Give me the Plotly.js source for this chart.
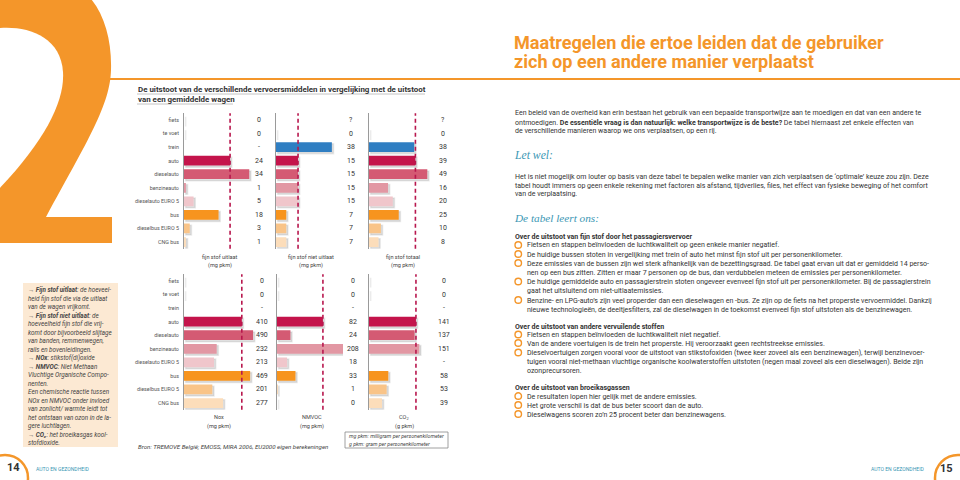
<!DOCTYPE html>
<html><head><meta charset="utf-8">
<script src="https://cdn.plot.ly/plotly-3.0.1.min.js"></script>
<style>html,body{margin:0;padding:0;background:#fff}#chart{width:960px;height:480px}</style>
</head><body><div id="chart"></div>
<script>
// ---------- DATA ----------
const categories = ['fiets','te voet','trein','auto','dieselauto','benzineauto','dieselauto EURO 5','bus','dieselbus EURO 5','CNG bus'];
const fijnStofUitlaat     = [0, 0, '-', 24, 34, 1, 5, 18, 3, 1];
const fijnStofNietUitlaat = ['?', 0, 38, 15, 15, 15, 15, 7, 7, 7];
const fijnStofTotaal      = ['?', 0, 38, 39, 49, 16, 20, 25, 10, 8];
const noxValues           = [0, 0, '-', 410, 490, 232, 213, 469, 201, 277];
const nmvocValues         = [0, 0, '-', 82, 24, 208, 18, 33, 1, 0];
const co2Values           = [0, 0, '-', 141, 137, 151, '-', 58, 53, 39];
const panelTitles = [
  ['fijn stof uitlaat','(mg pkm)'],
  ['fijn stof niet uitlaat','(mg pkm)'],
  ['fijn stof totaal','(mg pkm)'],
  ['Nox','(mg pkm)'],
  ['NMVOC','(mg pkm)'],
  ['CO<sub>2</sub>','(g pkm)']
];
const referenceCategory = 'auto';

// ---------- STYLE ----------
const W = 960, H = 480;
const NARROW = "'Liberation Sans Narrow', 'Roboto', sans-serif";
const SERIF = "'Liberation Serif', 'DejaVu Serif', serif";
const ORANGE = '#F4962A', TEAL = '#3A97B4', TXT = '#333333';
const barColors = ['#cccccc','#cccccc','#2F7EC2','#C4144B','#D45A73','#E297A3','#F0C6CB','#F7941E','#F9C488','#FCDDBA'];

const px = x => x / W, py = y => 1 - y / H;
const P = (x, y) => (x / W).toFixed(5) + ',' + (1 - y / H).toFixed(5);

const cv = document.createElement('canvas').getContext('2d');
function measure(html, size, family, italic) {
  let w = 0, bold = false;
  html.split(/(<b>|<\/b>)/).forEach(p => {
    if (p === '<b>') { bold = true; return; }
    if (p === '</b>') { bold = false; return; }
    const t = p.replace(/<[^>]+>/g, '');
    cv.font = (italic ? 'italic ' : '') + (bold ? 'bold ' : '') + size + 'px ' + family;
    w += cv.measureText(t).width;
  });
  return w;
}
function fit(html, family, italic, target) {
  return 10 * target / measure(html, 10, family, italic);
}

const panelGeom = [
  {x0:184, x1:255, ppu:1.92, top:true,  labels:true,  valX:259, titleX:220},
  {x0:276, x1:340, ppu:1.47, top:true,  labels:false, valX:351, titleX:311},
  {x0:369, x1:432, ppu:1.19, top:true,  labels:false, valX:443, titleX:403},
  {x0:184, x1:256, ppu:0.141,top:false, labels:true,  valX:262, titleX:219},
  {x0:277, x1:343, ppu:0.56, top:false, labels:false, valX:353, titleX:312},
  {x0:369, x1:432, ppu:0.333,top:false, labels:false, valX:444, titleX:404}
];
const panelValues = [fijnStofUitlaat, fijnStofNietUitlaat, fijnStofTotaal, noxValues, nmvocValues, co2Values];
const rowDomTop = [113.2, 248.8], rowDomBot = [274.2, 409.8];
const SH = 1.6; // shadow offset px

const TICK = Math.min(7, fit('dieselauto EURO 5', NARROW, false, 44));
const PT = Math.min(7, fit('fijn stof niet uitlaat', NARROW, false, 46));

const data = [];
const annotations = [];
const shapes = [];
const layout = {
  width: W, height: H, margin: {l:0, r:0, t:0, b:0},
  paper_bgcolor: '#ffffff', plot_bgcolor: 'rgba(0,0,0,0)',
  showlegend: false
};

function txt(x, y, text, size, color, family, extra) {
  annotations.push(Object.assign({
    xref:'paper', yref:'paper', x:px(x), y:py(y), text:text, showarrow:false,
    xanchor:'left', yanchor:'middle', borderpad:0,
    font:{family:family || NARROW, size:size, color:color || TXT}
  }, extra || {}));
}

const mainTraces = [];
panelValues.forEach((vals, i) => {
  const g = panelGeom[i];
  const nb = i + 1, sb = nb === 1 ? '' : String(nb);   // shadow (base) axes
  const sm = String(i + 7);                            // main (overlay) axes
  const dom = g.top ? rowDomTop : rowDomBot;
  const rowPx = (dom[1] - dom[0]) / categories.length;
  const R = (g.x1 - g.x0) / g.ppu;
  const xs = vals.map(v => typeof v === 'number' ? v : null);
  // shadow trace on base axes (ranges shifted so bars appear offset right/down)
  data.push({
    type:'bar', orientation:'h', xaxis:'x' + sb, yaxis:'y' + sb,
    x: xs, y: categories, width: 0.72,
    marker:{color:'rgba(60,60,60,0.16)', line:{width:1.6, color:'rgba(60,60,60,0.10)'}},
    hoverinfo:'skip'
  });
  layout['xaxis' + sb] = {domain:[px(g.x0), px(g.x1)], range:[-SH / g.ppu, R - SH / g.ppu],
    visible:false, fixedrange:true, anchor:'y' + sb};
  const s = SH / rowPx;
  layout['yaxis' + sb] = {domain:[py(dom[1]), py(dom[0])], type:'category',
    categoryorder:'array', categoryarray:categories,
    range:[categories.length - 0.5 - s, -0.5 - s], autorange:false,
    visible:false, fixedrange:true, anchor:'x' + sb};
  // main trace on overlay axes
  mainTraces.push({
    type:'bar', orientation:'h', xaxis:'x' + sm, yaxis:'y' + sm,
    x: xs, y: categories, width: 0.72,
    marker:{color: barColors, line:{width:0}},
    hoverinfo:'skip'
  });
  layout['xaxis' + sm] = {overlaying:'x' + sb, range:[0, R], visible:false, fixedrange:true, anchor:'y' + sm};
  layout['yaxis' + sm] = {overlaying:'y' + sb, type:'category',
    categoryorder:'array', categoryarray:categories,
    range:[categories.length - 0.5, -0.5], autorange:false,
    showline:true, linecolor:'#9a9a9a', linewidth:1,
    ticks:'', showgrid:false, zeroline:false,
    showticklabels:g.labels, ticklabelstandoff:3,
    tickfont:{family:NARROW, size:TICK, color:'#555'},
    anchor:'x' + sm, fixedrange:true};
  const ref = vals[categories.indexOf(referenceCategory)];
  shapes.push({type:'line', xref:'x' + sm, yref:'y' + sm + ' domain', x0:ref, x1:ref, y0:0, y1:1,
    line:{color:'#B8174E', width:1.6, dash:'4px,3px'}, layer:'above'});
  vals.forEach((v, k) => {
    annotations.push({xref:'paper', yref:'y' + sm, x:px(g.valX), y:categories[k], text:String(v),
      showarrow:false, xanchor:'center', yanchor:'middle',
      font:{family:NARROW, size:7, color:TXT}});
  });
  const ty = g.top ? [257, 265] : [417, 426];
  panelTitles[i].forEach((t, k) => {
    txt(g.titleX, ty[k], t, PT, '#444', NARROW, {xanchor:'center'});
  });
});
mainTraces.forEach(t => data.push(t));

// ---------- Decorations ----------
const two = 'M' + P(-20,-10) + ' L' + P(82,-10) + ' C' + P(102,6) + ' ' + P(112,36) + ' ' + P(111,70) +
  ' C' + P(110,105) + ' ' + P(88,140) + ' ' + P(46,217) + ' L' + P(112,217) + ' L' + P(112,243) +
  ' L' + P(-20,243) + ' Z';
shapes.push({type:'path', xref:'paper', yref:'paper', path:two, fillcolor:ORANGE, line:{width:0}, layer:'below'});
const counter = 'M' + P(-20,32) + ' C' + P(10,22) + ' ' + P(60,28) + ' ' + P(63,72) +
  ' C' + P(65,105) + ' ' + P(40,150) + ' ' + P(-20,208) + ' Z';
shapes.push({type:'path', xref:'paper', yref:'paper', path:counter, fillcolor:'#ffffff', line:{width:0}, layer:'below'});
shapes.push({type:'line', xref:'paper', yref:'paper', x0:px(108), x1:px(960), y0:py(79), y1:py(79), line:{color:ORANGE, width:2.2}});
shapes.push({type:'line', xref:'paper', yref:'paper', x0:px(137), x1:px(425), y0:py(94), y1:py(94), line:{color:'#c4c4c4', width:1}});
shapes.push({type:'line', xref:'paper', yref:'paper', x0:px(137), x1:px(233), y0:py(104), y1:py(104), line:{color:'#c4c4c4', width:1}});
shapes.push({type:'rect', xref:'paper', yref:'paper', x0:px(23), x1:px(118), y0:py(447), y1:py(283), fillcolor:'#FCE9D3', line:{width:0}, layer:'below'});
shapes.push({type:'rect', xref:'paper', yref:'paper', x0:px(345), x1:px(448), y0:py(448), y1:py(432), fillcolor:'rgba(0,0,0,0)', line:{color:'#888', width:0.8}});
shapes.push({type:'circle', xref:'paper', yref:'paper', x0:px(5-23), x1:px(5+23), y0:py(478+23), y1:py(478-23), line:{color:ORANGE, width:2.5}});
shapes.push({type:'circle', xref:'paper', yref:'paper', x0:px(958-23), x1:px(958+23), y0:py(478+23), y1:py(478-23), line:{color:ORANGE, width:2.5}});

// ---------- Texts ----------
const T1 = '<b>De uitstoot van de verschillende vervoersmiddelen in vergelijking met de uitstoot</b>';
const TS = fit(T1, NARROW, false, 288);
txt(137, 89, T1, TS, '#333');
txt(137, 99, '<b>van een gemiddelde wagen</b>', TS, '#333');
const BRON = 'Bron: TREMOVE België; EMOSS, MIRA 2006, EU2000 eigen berekeningen';
txt(137, 446, '<i>' + BRON + '</i>', fit(BRON, NARROW, true, 191), '#444');
const U1 = 'mg pkm: milligram per personenkilometer';
const US = fit(U1, NARROW, true, 95);
txt(348, 436, '<i>' + U1 + '</i>', US, '#444');
txt(348, 444, '<i>g pkm: gram per personenkilometer</i>', US, '#444');

const sidebarLines = [
  '<b>→ Fijn stof uitlaat</b>: de hoeveel-',
  'heid fijn stof die via de uitlaat',
  'van de wagen vrijkomt.',
  '<b>→ Fijn stof niet uitlaat</b>: de',
  'hoeveelheid fijn stof die vrij-',
  'komt door bijvoorbeeld slijtage',
  'van banden, remmenwegen,',
  'rails en bovenleidingen.',
  '<b>→ NOx</b>: stikstof(di)oxide',
  '<b>→ NMVOC</b>: Niet Methaan',
  'Vluchtige Organische Compo-',
  'nenten.',
  'Een chemische reactie tussen',
  'NOx en NMVOC onder invloed',
  'van zonlicht/ warmte leidt tot',
  'het ontstaan van ozon in de la-',
  'gere luchtlagen.',
  '<b>→ CO₂</b>: het broeikasgas kool-',
  'stofdioxide.'
];
const SS = Math.min(fit(sidebarLines[5], NARROW, true, 84), fit(sidebarLines[1], NARROW, true, 81), fit(sidebarLines[0], NARROW, true, 87));
sidebarLines.forEach((l, k) => txt(27, 290 + k * 8.5, '<i>' + l + '</i>', SS, '#444'));

const HD1 = '<b>Maatregelen die ertoe leiden dat de gebruiker</b>';
const HS = fit(HD1, NARROW, false, 370);
txt(513, 42.5, HD1, HS, ORANGE);
txt(513, 62, '<b>zich op een andere manier verplaatst</b>', HS, ORANGE);

const paraLines = [
  [113, 'Een beleid van de overheid kan erin bestaan het gebruik van een bepaalde transportwijze aan te moedigen en dat van een andere te'],
  [122, 'ontmoedigen. <b>De essentiële vraag is dan natuurlijk: welke transportwijze is de beste?</b> De tabel hiernaast zet enkele effecten van'],
  [130.5, 'de verschillende manieren waarop we ons verplaatsen, op een rij.'],
  [176, 'Het is niet mogelijk om louter op basis van deze tabel te bepalen welke manier van zich verplaatsen de ‘optimale’ keuze zou zijn. Deze'],
  [185, 'tabel houdt immers op geen enkele rekening met factoren als afstand, tijdverlies, files, het effect van fysieke beweging of het comfort'],
  [193.5, 'van de verplaatsing.'],
  [236.5, '<b>Over de uitstoot van fijn stof door het passagiersvervoer</b>'],
  [326.5, '<b>Over de uitstoot van andere vervuilende stoffen</b>'],
  [387.5, '<b>Over de uitstoot van broeikasgassen</b>']
];
const bulletLines = [
  [245, true,  'Fietsen en stappen beïnvloeden de luchtkwaliteit op geen enkele manier negatief.'],
  [254, true,  'De huidige bussen stoten in vergelijking met trein of auto het minst fijn stof uit per personenkilometer.'],
  [263, true,  'Deze emissies van de bussen zijn wel sterk afhankelijk van de bezettingsgraad. De tabel gaat ervan uit dat er gemiddeld 14 perso-'],
  [272, false, 'nen op een bus zitten. Zitten er maar 7 personen op de bus, dan verdubbelen meteen de emissies per personenkilometer.'],
  [281.5, true,'De huidige gemiddelde auto en passagierstrein stoten ongeveer evenveel fijn stof uit per personenkilometer. Bij de passagierstrein'],
  [290.5, false,'gaat het uitsluitend om niet-uitlaatemissies.'],
  [300, true,  'Benzine- en LPG-auto’s zijn veel properder dan een dieselwagen en -bus. Ze zijn op de fiets na het properste vervoermiddel. Dankzij'],
  [309, false, 'nieuwe technologieën, de deeltjesfilters, zal de dieselwagen in de toekomst evenveel fijn stof uitstoten als de benzinewagen.'],
  [334.5, true,'Fietsen en stappen beïnvloeden de luchtkwaliteit niet negatief.'],
  [343, true,  'Van de andere voertuigen is de trein het properste. Hij veroorzaakt geen rechtstreekse emissies.'],
  [352.5, true,'Dieselvoertuigen zorgen vooral voor de uitstoot van stikstofoxiden (twee keer zoveel als een benzinewagen), terwijl benzinevoer-'],
  [361.5, false,'tuigen vooral niet-methaan vluchtige organische koolwaterstoffen uitstoten (negen maal zoveel als een dieselwagen). Beide zijn'],
  [370, false, 'ozonprecursoren.'],
  [396, true,  'De resultaten lopen hier gelijk met de andere emissies.'],
  [405, true,  'Het grote verschil is dat de bus beter scoort dan de auto.'],
  [414, true,  'Dieselwagens scoren zo’n 25 procent beter dan benzinewagens.']
];
const BODY = Math.min(
  fit(paraLines[0][1], NARROW, false, 416),
  fit(paraLines[3][1], NARROW, false, 421),
  fit(bulletLines[2][2], NARROW, false, 407),
  fit(bulletLines[6][2], NARROW, false, 405)
);
paraLines.forEach(([y, t]) => txt(514, y, t, BODY, TXT));
bulletLines.forEach(([y, b, t]) => {
  txt(526, y, t, BODY, TXT);
  if (b) shapes.push({type:'circle', xref:'paper', yref:'paper', x0:px(515), x1:px(521.5), y0:py(y + 3.3), y1:py(y - 3.3), line:{color:ORANGE, width:1.4}});
});

txt(513, 155, '<i>Let wel:</i>', fit('Let wel:', SERIF, true, 38), TEAL, SERIF);
txt(513, 218, '<i>De tabel leert ons:</i>', fit('De tabel leert ons:', SERIF, true, 84), TEAL, SERIF);

const FT = fit('AUTO EN GEZONDHEID', NARROW, false, 53);
txt(13, 467, '<b>14</b>', 11, '#333', NARROW, {xanchor:'center'});
txt(35, 469, 'AUTO EN GEZONDHEID', FT, TEAL);
txt(926, 469, 'AUTO EN GEZONDHEID', FT, TEAL, NARROW, {xanchor:'right'});
txt(946, 468, '<b>15</b>', 11, '#333', NARROW, {xanchor:'center'});

layout.annotations = annotations;
layout.shapes = shapes;
Plotly.newPlot('chart', data, layout, {staticPlot:true, displayModeBar:false});
</script>
</body></html>
